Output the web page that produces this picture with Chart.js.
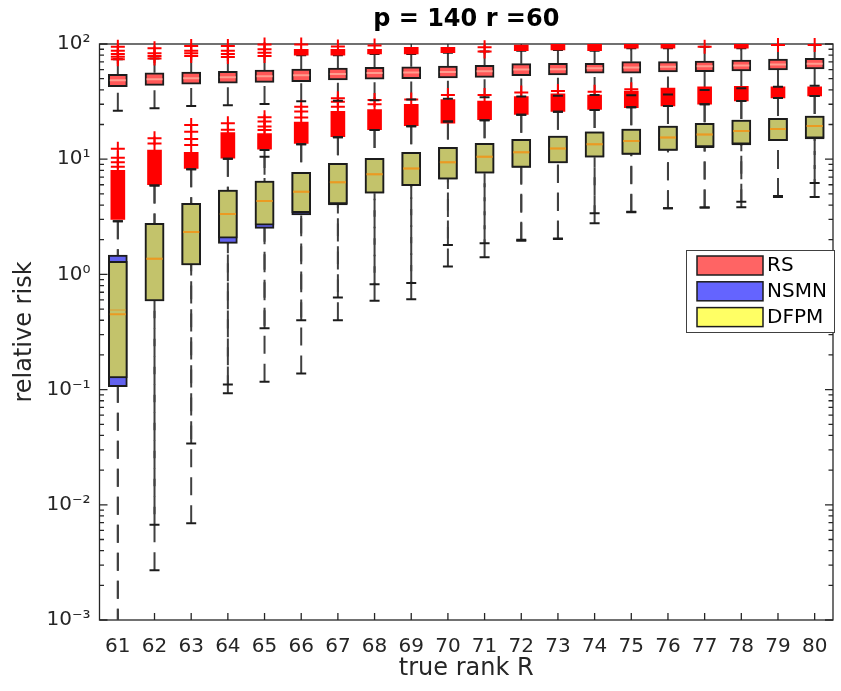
<!DOCTYPE html>
<html>
<head>
<meta charset="utf-8">
<script src="https://cdn.jsdelivr.net/npm/chart.js@4.4.1/dist/chart.umd.min.js"></script>
<style>
  html, body { margin: 0; padding: 0; overflow: hidden; background: #fff; }
  #c { display: block; }
</style>
</head>
<body>
<canvas id="c" width="843" height="691"></canvas>
<script>
// ---- data ----------------------------------------------------------------
const categories = ['61','62','63','64','65','66','67','68','69','70',
                    '71','72','73','74','75','76','77','78','79','80'];

// RS
const rsQ1     = [42.6,43.8,44.7,45.6,46.5,47.1,48.7,49.4,50.0,50.7,51.4,53.1,53.8,55.7,55.7,57.1,57.5,58.3,59.5,60.7];
const rsMedian = [48.5,49.5,50.5,51.5,52.5,53.5,55.0,56.0,56.5,57.0,58.0,60.0,60.5,61.5,62.5,63.5,64.0,65.0,66.5,67.5];
const rsQ3     = [54.6,56.3,57.1,57.9,59.5,60.7,61.9,62.8,63.5,64.4,65.3,67.5,68.0,68.0,70.2,70.2,71.2,72.6,74.1,75.1];
const rsLow    = [26.4,27.7,29.0,29.4,30.2,31.9,32.2,32.5,33.0,33.5,34.5,35.0,35.5,36.1,35.9,36.5,39.9,41.3,42.5,43.5];
const rsHigh   = [73.7,75.0,78.7,77.0,78.7,80.0,80.0,82.0,82.0,84.0,86.0,87.5,88.7,87.5,92.0,92.0,94.7,92.0,98.0,98.0];
const rsOutlierBand = [null,null,null,null,null,[80,90],[80,90],[82,90],[82,93.6],[84,93.6],
                       null,[87.5,98],[88.7,100],[87.5,100],[92,100],[92,100],null,[92,100],null,null];
const rsOutliers = [[73.7,77.6,81.9,87.5,94.7],[75,78.7,83,91.7],[78.7,83,87.5,96],[77,82,87.5,96],[78.7,84,90,99],
                    [99],[95],[97],[],[],[86,93.6],[],[],[],[],[],[94.7],[],[98],[98]];

// NSMN
const nsmnQ1     = [0.106,0.59,1.21,1.86,2.51,3.28,4.0,5.06,5.89,6.7,7.55,8.5,9.3,10.4,11.0,11.9,12.6,13.3,14.5,15.0];
const nsmnMedian = [0.49,1.37,2.33,3.34,4.34,5.22,6.3,7.4,8.3,9.4,10.5,11.5,12.4,13.5,14.4,15.4,16.4,17.6,18.3,19.4];
const nsmnQ3     = [1.47,2.78,4.14,5.4,6.47,7.7,9.2,10.2,11.5,12.7,13.7,14.9,15.9,17.3,18.3,19.4,20.5,21.9,22.6,23.7];
const nsmnLow    = [0.0005,0.0027,0.0069,0.093,0.117,0.138,0.40,0.59,0.61,1.17,1.41,1.96,2.03,2.78,3.46,3.75,3.8,3.82,4.7,4.7];
const nsmnHigh   = [2.9,5.9,8.2,10.1,10.5,13.5,15.5,17.9,19.3,21.2,21.8,24.3,25.8,26.7,28.2,29.0,30.0,32.0,34.0,35.4];

// DFPM
const dfpmQ1     = [0.126,0.59,1.21,2.06,2.68,3.43,4.1,5.06,5.89,6.7,7.55,8.5,9.3,10.4,11.0,11.9,12.8,13.5,14.5,15.2];
const dfpmMedian = [0.45,1.37,2.33,3.34,4.34,5.22,6.3,7.4,8.3,9.4,10.5,11.5,12.4,13.5,14.4,15.4,16.4,17.6,18.3,19.4];
const dfpmQ3     = [1.30,2.78,4.14,5.4,6.47,7.7,9.2,10.2,11.5,12.7,13.7,14.9,15.9,17.3,18.3,19.4,20.5,21.9,22.6,23.7];
const dfpmLow    = [0.0005,0.0067,0.034,0.111,0.34,0.40,0.63,0.82,0.84,1.80,1.86,2.0,2.05,3.39,3.5,3.75,3.8,4.28,4.8,6.2];
const dfpmHigh   = [2.9,5.9,8.2,10.1,12.0,13.5,15.5,17.9,19.3,21.2,21.8,24.3,25.8,26.7,28.2,29.0,30.0,32.0,34.0,35.4];

// outliers above the NSMN / DFPM whiskers
const lowOutlierBand = [[3.0,8.0],[6.0,12.0],[8.3,11.5],[10.2,17.0],[12.2,16.7],[13.7,21.0],[15.7,26.0],[18.0,27.0],
                        [19.5,30.0],[20.5,33.0],[22.0,32.0],[24.5,35.0],[26.0,37.0],[27.0,36.0],[28.0,39.0],
                        [29.0,41.5],[30.0,42.5],[32.0,43.0],[34.0,42.5],[35.5,42.5]];
const lowOutliers = [[8.6,9.4,10.3,12.3],[13.7,15.2],[13.3,15.0,17.3,19.8],[18.0,20.5],[17.9,19.2,21.2,23.1],
                     [23.0,25.9,28.6],[28.6,31.6,33.8],[30.0,32.7],[33.0],[36.0],[36.0],[38.0],[39.0],[38.5],[40.5],
                     [],[],[],[],[]];

const yTickLabels = { '-3': '10⁻³', '-2': '10⁻²', '-1': '10⁻¹', '0': '10⁰', '1': '10¹', '2': '10²' };
const legendLabels = ['RS', 'NSMN', 'DFPM'];

// ---- styles ---------------------------------------------------------------
const FONT = 'DejaVu Sans';
const TEXT = '#262626';
const OUTLIER_RED = '#ff0000';
const legendColors = ['#ff6464', '#6464ff', '#ffff64'];

// ---- dataset builders -----------------------------------------------------
const datasets = [];

function addWhiskers(q1, q3, lo, hi) {
  categories.forEach((c, i) => {
    const base = { type: 'line', borderColor: '#404040', borderWidth: 2, borderDash: [18, 10],
                   pointRadius: 0, pointHoverRadius: 0, fill: false, order: 100 };
    datasets.push({ ...base, data: [{ x: c, y: lo[i] }, { x: c, y: q1[i] }] });
    datasets.push({ ...base, data: [{ x: c, y: hi[i] }, { x: c, y: q3[i] }] });
  });
}

function marks(points, style, radius, color, width, order, clip) {
  const ds = { type: 'line', data: points, showLine: false, pointStyle: style,
               pointRadius: radius, pointHoverRadius: radius, pointBorderColor: color,
               pointBackgroundColor: color, pointBorderWidth: width, order };
  if (clip !== undefined) ds.clip = clip;
  return ds;
}

function capPoints(values) {
  return categories.map((c, i) => ({ x: c, y: values[i] }));
}

function boxSet(q1, q3, fill, order) {
  return { type: 'bar', data: q1.map((v, i) => [v, q3[i]]), backgroundColor: fill,
           borderColor: '#1c1c1c', borderWidth: 2, borderSkipped: false,
           barThickness: 19, grouped: false, order };
}

function bandSet(bands, order) {
  return { type: 'bar', data: bands, backgroundColor: OUTLIER_RED, borderWidth: 0,
           barThickness: 14, grouped: false, order };
}

// whiskers (beneath everything)
addWhiskers(nsmnQ1, nsmnQ3, nsmnLow, nsmnHigh);
addWhiskers(dfpmQ1, dfpmQ3, dfpmLow, dfpmHigh);
addWhiskers(rsQ1, rsQ3, rsLow, rsHigh);

// RS upper caps sit under the RS outliers
datasets.push(marks(capPoints(rsHigh), 'line', 5, '#1c1c1c', 2, 95));

// boxes
datasets.push(boxSet(nsmnQ1, nsmnQ3, '#6262ee', 90));
datasets.push(boxSet(dfpmQ1, dfpmQ3, '#c3c36b', 85));
datasets.push(marks(nsmnMedian, 'line', 8, 'rgba(226,150,40,0.45)', 2, 80));
datasets.push(marks(dfpmMedian, 'line', 8, '#eb9a22', 2, 78));
datasets.push(boxSet(rsQ1, rsQ3, '#ff5757', 70));
datasets.push(marks(rsMedian, 'line', 8, '#ff9d8f', 2, 68));

// outliers
datasets.push(bandSet(lowOutlierBand, 50));
datasets.push(bandSet(rsOutlierBand, 50));
const outlierPoints = [];
categories.forEach((c, i) => {
  rsOutliers[i].forEach(v => outlierPoints.push({ x: c, y: v }));
  lowOutliers[i].forEach(v => outlierPoints.push({ x: c, y: v }));
});
datasets.push(marks(outlierPoints, 'cross', 7, OUTLIER_RED, 2, 45, false));

// remaining caps on top
datasets.push(marks(capPoints(nsmnLow), 'line', 5, '#1c1c1c', 2, 10));
datasets.push(marks(capPoints(dfpmLow), 'line', 5, '#1c1c1c', 2, 10));
datasets.push(marks(capPoints(nsmnHigh), 'line', 5, '#1c1c1c', 2, 10));
datasets.push(marks(capPoints(dfpmHigh), 'line', 5, '#1c1c1c', 2, 10));
datasets.push(marks(capPoints(rsLow), 'line', 5, '#1c1c1c', 2, 10));

// ---- plugins --------------------------------------------------------------
const axesFrame = {
  id: 'axesFrame',
  beforeDatasetsDraw(chart) {
    const { ctx, chartArea: a, scales: { x, y } } = chart;
    ctx.save();
    ctx.strokeStyle = TEXT;
    ctx.lineWidth = 1.3;
    ctx.strokeRect(a.left, a.top, a.right - a.left, a.bottom - a.top);
    ctx.beginPath();
    for (let e = -3; e <= 2; e++) {
      for (let k = 1; k <= 9; k++) {
        const v = k * Math.pow(10, e);
        if (v > 100.0001) break;
        const py = y.getPixelForValue(v);
        const len = k === 1 ? 8 : 4.5;
        ctx.moveTo(a.left, py); ctx.lineTo(a.left + len, py);
        ctx.moveTo(a.right, py); ctx.lineTo(a.right - len, py);
      }
    }
    categories.forEach((c, i) => {
      const px = x.getPixelForValue(i);
      ctx.moveTo(px, a.bottom); ctx.lineTo(px, a.bottom - 7);
      ctx.moveTo(px, a.top); ctx.lineTo(px, a.top + 7);
    });
    ctx.stroke();
    ctx.restore();
  }
};

const boxLegend = {
  id: 'boxLegend',
  afterDraw(chart) {
    const { ctx } = chart;
    ctx.save();
    ctx.fillStyle = '#fff';
    ctx.fillRect(686.5, 250.5, 148, 82);
    ctx.strokeStyle = '#404040';
    ctx.lineWidth = 1;
    ctx.strokeRect(686.5, 250.5, 148, 82);
    ctx.font = '20px "' + FONT + '"';
    ctx.textBaseline = 'middle';
    legendLabels.forEach((label, i) => {
      const top = 256 + i * 25.8;
      ctx.fillStyle = legendColors[i];
      ctx.fillRect(697, top, 66, 19);
      ctx.strokeStyle = '#1c1c1c';
      ctx.lineWidth = 1.5;
      ctx.strokeRect(697, top, 66, 19);
      ctx.fillStyle = '#000';
      ctx.fillText(label, 767, top + 10);
    });
    ctx.restore();
  }
};

// ---- chart ----------------------------------------------------------------
new Chart(document.getElementById('c'), {
  type: 'bar',
  data: { labels: categories, datasets },
  plugins: [axesFrame, boxLegend],
  options: {
    responsive: false,
    devicePixelRatio: 1,
    animation: false,
    events: [],
    layout: { padding: 0 },
    plugins: {
      legend: { display: false },
      tooltip: { enabled: false },
      title: {
        display: true, fullSize: false, text: 'p = 140 r =60', color: '#000',
        font: { family: FONT, size: 24, weight: 'bold' },
        padding: { top: 5.5, bottom: 9.7 }
      }
    },
    scales: {
      x: {
        type: 'category', offset: true,
        grid: { display: false, drawTicks: false }, border: { display: false },
        ticks: { font: { family: FONT, size: 20 }, color: TEXT, padding: 15, maxRotation: 0, autoSkip: false },
        title: { display: true, text: 'true rank R', color: TEXT,
                 font: { family: FONT, size: 24 }, padding: { top: 0, bottom: 8 } },
        afterFit(s) { s.height = 71; }
      },
      y: {
        type: 'logarithmic', min: 0.001, max: 100,
        grid: { display: false, drawTicks: false }, border: { display: false },
        ticks: {
          autoSkip: false, font: { family: FONT, size: 20 }, color: TEXT, padding: 9,
          callback(v) {
            const e = Math.log10(v);
            const r = Math.round(e);
            return Math.abs(e - r) < 1e-6 ? (yTickLabels[String(r)] || '') : '';
          }
        },
        title: { display: true, text: 'relative risk', color: TEXT,
                 font: { family: FONT, size: 24 }, padding: { top: 10.6, bottom: 0 } },
        afterFit(s) { s.width = 99.5; }
      }
    }
  }
});
</script>
</body>
</html>
